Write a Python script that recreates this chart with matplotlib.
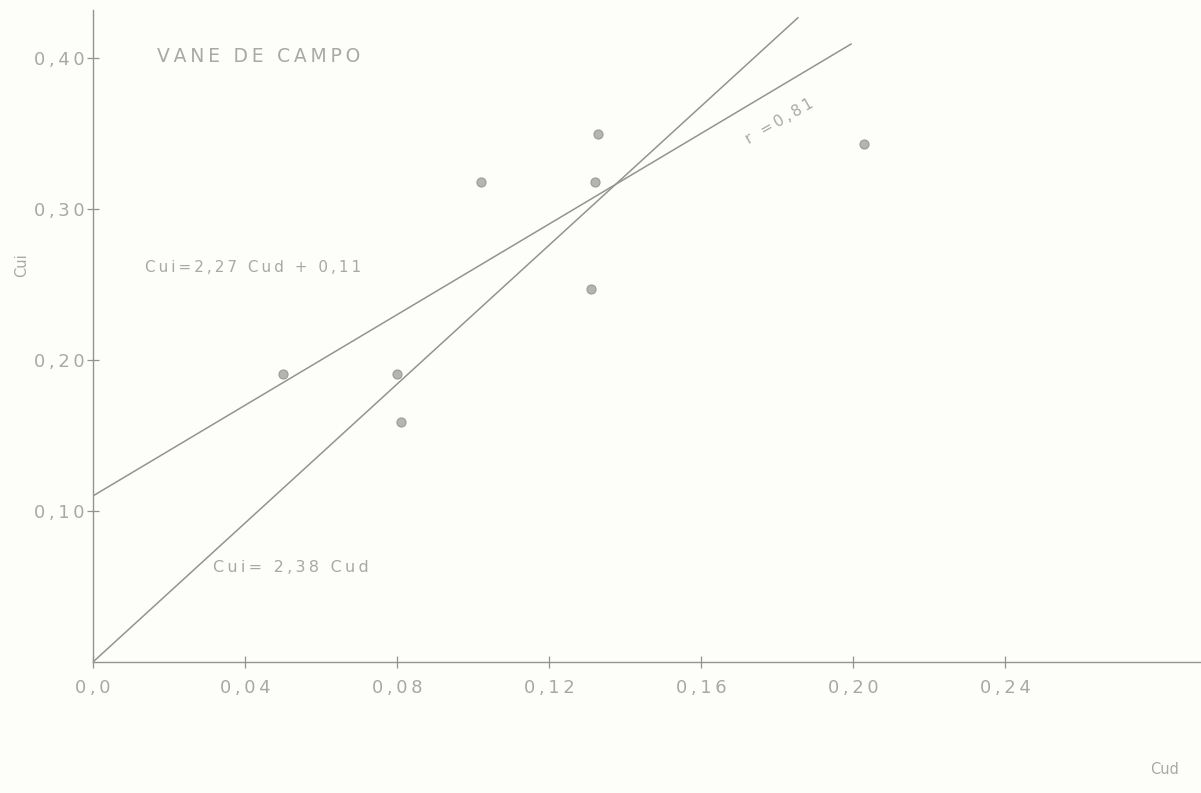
import matplotlib.pyplot as plt
import numpy as np

# pontos medidos (Cud, Cui)
cud = [0.050, 0.080, 0.081, 0.102, 0.131, 0.132, 0.133, 0.203]
cui = [0.191, 0.191, 0.159, 0.318, 0.247, 0.318, 0.350, 0.343]

# retas traçadas (coeficientes)
reta_origem_coef = 2.30
reta_origem_xmax = 0.1855
reta_reg_inter = 0.11
reta_reg_coef = 1.50
reta_reg_xmax = 0.1995

x_ticks = [0.0, 0.04, 0.08, 0.12, 0.16, 0.20, 0.24]
x_labels = ['0,0', '0,04', '0,08', '0,12', '0,16', '0,20', '0,24']
y_ticks = [0.10, 0.20, 0.30, 0.40]
y_labels = ['0,10', '0,20', '0,30', '0,40']

cinza = '#939390'
cinza_txt = '#a8a8a4'
fundo = '#fdfdf9'

plt.rcParams['font.family'] = ['DejaVu Sans']


def espacado(s):
    # letras afastadas, como no letreiro normógrafo
    return '\u2009'.join(s)


W, H = 1201, 793
fig = plt.figure(figsize=(W / 100, H / 100), dpi=100, facecolor=fundo)
x0, y0 = 93, 662
ax = fig.add_axes([x0 / W, (H - y0) / H, (W - x0) / W, y0 / H])
ax.set_facecolor(fundo)
ax.set_xlim(0, (W - x0) / 3800)
ax.set_ylim(0, y0 / 1510)

for s in ['top', 'right']:
    ax.spines[s].set_visible(False)
for s in ['left', 'bottom']:
    ax.spines[s].set_color(cinza)
    ax.spines[s].set_linewidth(1.0)
ax.spines['left'].set_bounds(0, 0.432)

ax.set_xticks(x_ticks)
ax.set_xticklabels([espacado(t) for t in x_labels])
ax.set_yticks(y_ticks)
ax.set_yticklabels([espacado(t) for t in y_labels])
ax.tick_params(axis='both', direction='inout', length=8, width=0.9,
               color=cinza, labelcolor=cinza_txt, labelsize=13)
ax.tick_params(axis='x', pad=8)
ax.tick_params(axis='y', pad=2)

# retas
xa = np.array([0, reta_origem_xmax])
ax.plot(xa, reta_origem_coef * xa, color=cinza, lw=1.1)
xb = np.array([0, reta_reg_xmax])
ax.plot(xb, reta_reg_coef * xb + reta_reg_inter, color=cinza, lw=1.1)

# pontos
ax.plot(cud, cui, 'o', ms=6.5, color='#b4b4b0', mec='#9a9a96', mew=0.8)

# textos
ax.text(0.0168, 0.4007, espacado('VANE DE CAMPO'), color=cinza_txt,
        fontsize=13.5, va='center', ha='left')
ax.text(0.0137, 0.261, espacado('Cui=2,27 Cud + 0,11'), color=cinza_txt,
        fontsize=11, va='center', ha='left')
ax.text(0.0316, 0.0623, espacado('Cui= 2,38 Cud'), color=cinza_txt,
        fontsize=11.5, va='center', ha='left')
ax.text(0.1808, 0.358, espacado('r =0,81'), color=cinza_txt, fontsize=11,
        va='center', ha='center', rotation=30)

fig.text(22 / W, 1 - 265 / H, 'Cui', color=cinza_txt, fontsize=10.5,
         rotation=90, va='center', ha='center')
fig.text(1165 / W, 1 - 770 / H, 'Cud', color=cinza_txt, fontsize=10.5,
         va='center', ha='center')

fig.savefig('out.png', dpi=100, facecolor=fundo)
